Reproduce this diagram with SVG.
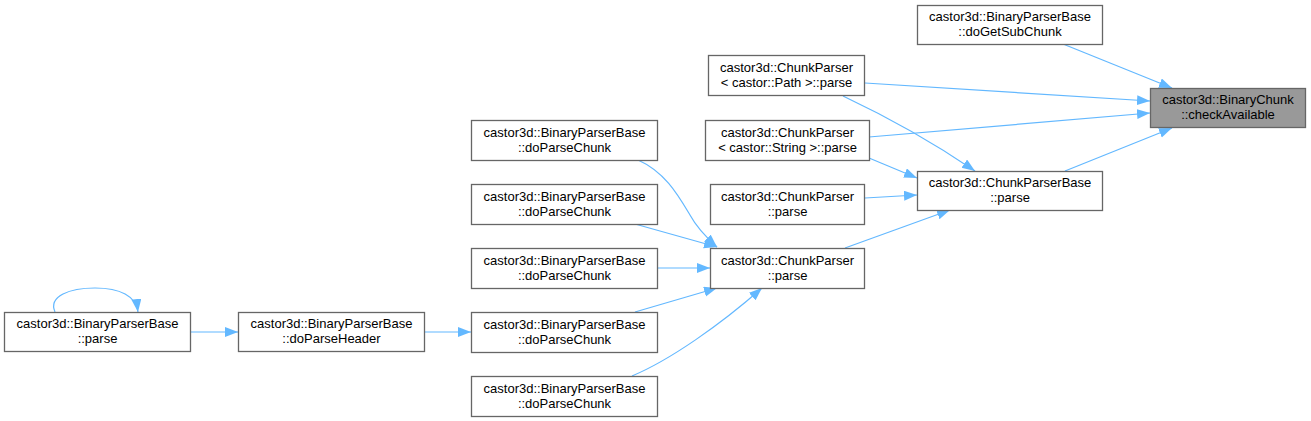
<svg xmlns="http://www.w3.org/2000/svg" width="1311" height="421" viewBox="0 0 1311 421">
<defs>
<style>
.n rect{fill:#ffffff;stroke:#666666;stroke-width:1.3}
.n.sel rect{fill:#999999}
.n text{font-family:"Liberation Sans",Arial,sans-serif;font-size:13px;fill:#000000;text-anchor:middle}
.e path{fill:none;stroke:#63b8ff;stroke-width:1.2}
</style>
<marker id="ah" markerWidth="14" markerHeight="11" refX="13" refY="5" orient="auto" markerUnits="userSpaceOnUse">
<path d="M0,0 L13,5 L0,10 z" fill="#63b8ff" stroke="none"/>
</marker>
</defs>
<rect width="1311" height="421" fill="#ffffff"/>
<g class="e">
<path d="M1063,44 L1172,88" marker-end="url(#ah)"/>
<path d="M865,83 L1150,101" marker-end="url(#ah)"/>
<path d="M869,137 L1150,113" marker-end="url(#ah)"/>
<path d="M1065,171 L1172,128" marker-end="url(#ah)"/>
<path d="M843,96 Q915,130 975,171" marker-end="url(#ah)"/>
<path d="M869,158 L917,178" marker-end="url(#ah)"/>
<path d="M865,198 L917,195" marker-end="url(#ah)"/>
<path d="M845,248 L950,210" marker-end="url(#ah)"/>
<path d="M638,160 C665,172 678,195 690,215 C697,228 707,238 717,247" marker-end="url(#ah)"/>
<path d="M635,224 L717,247" marker-end="url(#ah)"/>
<path d="M657,268 L710,268" marker-end="url(#ah)"/>
<path d="M635,312 L717,288" marker-end="url(#ah)"/>
<path d="M632,376 C670,360 720,325 762,288" marker-end="url(#ah)"/>
<path d="M424,332 L471,332" marker-end="url(#ah)"/>
<path d="M190,332 L238,332" marker-end="url(#ah)"/>
<path d="M55,312 C48,296 70,288 95,288 C120,288 136,296 138,312" marker-end="url(#ah)"/>
</g>
<g id="checkAvailable" class="n sel"><rect x="1150.5" y="88.5" width="155" height="39"/><text x="1228" y="104">castor3d::BinaryChunk</text><text x="1228" y="119">::checkAvailable</text></g>
<g id="doGetSubChunk" class="n"><rect x="917.5" y="5.5" width="185" height="39"/><text x="1010" y="21">castor3d::BinaryParserBase</text><text x="1010" y="36">::doGetSubChunk</text></g>
<g id="cpPath" class="n"><rect x="708.5" y="55.5" width="156" height="40"/><text x="786.5" y="72">castor3d::ChunkParser</text><text x="786.5" y="87">&lt; castor::Path &gt;::parse</text></g>
<g id="cpString" class="n"><rect x="705.5" y="120.5" width="164" height="40"/><text x="787.5" y="137">castor3d::ChunkParser</text><text x="787.5" y="152">&lt; castor::String &gt;::parse</text></g>
<g id="cpUpper" class="n"><rect x="710.5" y="184.5" width="154" height="40"/><text x="787.5" y="201">castor3d::ChunkParser</text><text x="787.5" y="216">::parse</text></g>
<g id="cpBase" class="n"><rect x="917.5" y="171.5" width="185" height="39"/><text x="1010" y="187">castor3d::ChunkParserBase</text><text x="1010" y="202">::parse</text></g>
<g id="cpLower" class="n"><rect x="710.5" y="248.5" width="154" height="40"/><text x="787.5" y="265">castor3d::ChunkParser</text><text x="787.5" y="280">::parse</text></g>
<g id="dpc1" class="n"><rect x="471.5" y="120.5" width="186" height="40"/><text x="564.5" y="137">castor3d::BinaryParserBase</text><text x="564.5" y="152">::doParseChunk</text></g>
<g id="dpc2" class="n"><rect x="471.5" y="184.5" width="186" height="40"/><text x="564.5" y="201">castor3d::BinaryParserBase</text><text x="564.5" y="216">::doParseChunk</text></g>
<g id="dpc3" class="n"><rect x="471.5" y="248.5" width="186" height="40"/><text x="564.5" y="265">castor3d::BinaryParserBase</text><text x="564.5" y="280">::doParseChunk</text></g>
<g id="dpc4" class="n"><rect x="471.5" y="312.5" width="186" height="40"/><text x="564.5" y="329">castor3d::BinaryParserBase</text><text x="564.5" y="344">::doParseChunk</text></g>
<g id="dpc5" class="n"><rect x="471.5" y="376.5" width="186" height="40"/><text x="564.5" y="393">castor3d::BinaryParserBase</text><text x="564.5" y="408">::doParseChunk</text></g>
<g id="bpbParse" class="n"><rect x="4.5" y="312.5" width="186" height="39"/><text x="97.5" y="328">castor3d::BinaryParserBase</text><text x="97.5" y="343">::parse</text></g>
<g id="doParseHeader" class="n"><rect x="238.5" y="312.5" width="186" height="39"/><text x="331.5" y="328">castor3d::BinaryParserBase</text><text x="331.5" y="343">::doParseHeader</text></g>
</svg>
